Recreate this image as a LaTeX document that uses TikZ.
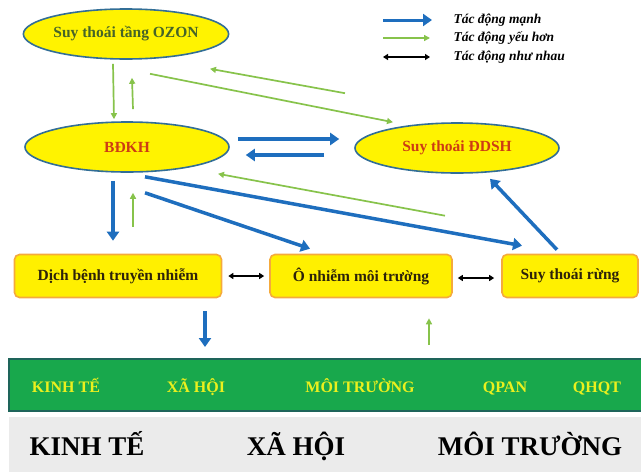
\documentclass[tikz,border=0pt]{standalone}
\usepackage{fontspec}
\setmainfont{Liberation Serif}
\usepackage{xcolor}
\usetikzlibrary{shapes.geometric, arrows.meta, positioning}

\definecolor{ellyellow}{RGB}{255,243,0}
\definecolor{ellblue}{RGB}{50,110,150}
\definecolor{boxyellow}{RGB}{255,240,0}
\definecolor{boxorange}{RGB}{245,170,60}
\definecolor{boxtext}{RGB}{45,35,10}
\definecolor{ozontext}{RGB}{70,100,40}
\definecolor{redtext}{RGB}{205,60,20}
\definecolor{arrblue}{RGB}{30,110,190}
\definecolor{arrgreen}{RGB}{135,195,75}
\definecolor{bandgreen}{RGB}{24,168,76}
\definecolor{bandedge}{RGB}{30,100,90}
\definecolor{bandyellow}{RGB}{235,240,30}
\definecolor{greybg}{RGB}{235,235,235}

\begin{document}
\begin{tikzpicture}[x=1pt, y=-1pt,
  every node/.style={font=\bfseries},
  elli/.style={ellipse, draw=ellblue, line width=1.6pt, fill=ellyellow,
               minimum width=204pt, minimum height=50pt, inner sep=0pt,
               font=\fontsize{15.5}{18}\selectfont\bfseries},
  box/.style={rectangle, rounded corners=5pt, draw=boxorange, line width=1.6pt,
              fill=boxyellow, minimum height=43pt, inner sep=0pt, text=boxtext,
              font=\fontsize{15.5}{18}\selectfont\bfseries},
  strong/.style={-{Triangle[length=9pt,width=12pt]}, line width=3.5pt, arrblue},
  weak/.style={-{Triangle[length=6pt,width=6pt]}, line width=1.7pt, arrgreen},
  mutual/.style={{Triangle[length=5pt,width=6pt]}-{Triangle[length=5pt,width=6pt]},
                 line width=1.6pt, black},
  legtext/.style={anchor=west, font=\fontsize{13.5}{16}\selectfont\bfseries\itshape},
  bandtext/.style={anchor=base, text=bandyellow, font=\fontsize{16}{18}\selectfont\bfseries},
  bigtext/.style={anchor=base, font=\fontsize{27}{30}\selectfont\bfseries}
]
  \fill[white] (0,0) rectangle (641,472);
  \useasboundingbox (0,0) rectangle (641,472);

  % Ellipses
  \node[elli, text=ozontext] (ozon) at (126,34)  {Suy thoái tầng OZON};
  \node[elli, text=redtext]  (bdkh) at (127,147) {BĐKH};
  \node[elli, text=redtext]  (ddsh) at (457,148) {Suy thoái ĐDSH};

  % Boxes
  \node[box, minimum width=207pt] (dich)   at (118,276) {Dịch bệnh truyền nhiễm};
  \node[box, minimum width=182pt] (onhiem) at (361,276) {Ô nhiễm môi trường};
  \node[box, minimum width=136pt] (rung)   at (570,276) {Suy thoái rừng};

  % Bands
  \node[draw=bandedge, line width=2pt, fill=bandgreen, minimum width=634pt,
        minimum height=52pt, inner sep=0pt] (band) at (326,385) {};
  \node[fill=greybg, minimum width=633pt, minimum height=55pt, inner sep=0pt]
    (grey) at (325.5,444.5) {};

  \node[bandtext] (kt)  at (66,392)  {KINH TẾ};
  \node[bandtext] (xh)  at (196,392) {XÃ HỘI};
  \node[bandtext] (mt)  at (360,392) {MÔI TRƯỜNG};
  \node[bandtext] (qp)  at (505,392) {QPAN};
  \node[bandtext] (qh)  at (597,392) {QHQT};

  \node[bigtext] (ktb) at (87,455)  {KINH TẾ};
  \node[bigtext] (xhb) at (296,455) {XÃ HỘI};
  \node[bigtext] (mtb) at (530,455) {MÔI TRƯỜNG};

  % Arrows
  \draw[weak] ([shift={(-13,4)}]ozon.south) -- ([shift={(-13,-2)}]bdkh.north);
  \draw[weak] ([shift={(6,-12)}]bdkh.north) -- ([shift={(6,18)}]ozon.south);
  \draw[weak] ([shift={(24,14)}]ozon.south) -- ([shift={(-64,0)}]ddsh.north);
  \draw[weak] ([shift={(-112,-29)}]ddsh.north) -- ([shift={(84,9)}]ozon.south);
  \draw[strong] ([shift={(8,-8)}]bdkh.east) -- ([shift={(-15,-9)}]ddsh.west);
  \draw[strong] ([shift={(-30,7)}]ddsh.west) -- ([shift={(16,8)}]bdkh.east);
  \draw[weak] ([shift={(-125,-38)}]rung.north) -- ([shift={(91,1)}]bdkh.south);
  \draw[strong] ([shift={(18,4)}]bdkh.south) -- ([shift={(-48,-8)}]rung.north);
  \draw[strong] ([shift={(18,20)}]bdkh.south) -- ([shift={(-51,-5)}]onhiem.north);
  \draw[strong] ([shift={(-14,8)}]bdkh.south) -- ([shift={(-5,-13)}]dich.north);
  \draw[weak] ([shift={(15,-27)}]dich.north) -- ([shift={(6,20)}]bdkh.south);
  \draw[strong] ([shift={(-13,-4)}]rung.north) -- ([shift={(33,5)}]ddsh.south);
  \draw[mutual, shorten <=6pt, shorten >=5pt] (dich.east) -- (onhiem.west);
  \draw[mutual, shorten <=5pt, shorten >=7pt]
    ([shift={(0,2)}]onhiem.east) -- ([shift={(0,2)}]rung.west);
  \draw[strong] ([shift={(87,13)}]dich.south) -- ([shift={(-121,-11)}]band.north);
  \draw[weak] ([shift={(103,-13)}]band.north) -- ([shift={(68,20)}]onhiem.south);

  % Legend
  \node[legtext] (lg1) at (450,20) {Tác động mạnh};
  \node[legtext] (lg2) at (450,38) {Tác động yếu hơn};
  \node[legtext] (lg3) at (450,57) {Tác động như nhau};
  \draw[strong, line width=3pt] ([shift={(-67,0)}]lg1.west) -- ([shift={(-18,0)}]lg1.west);
  \draw[weak] ([shift={(-67,0)}]lg2.west) -- ([shift={(-20,0)}]lg2.west);
  \draw[mutual] ([shift={(-67,0)}]lg3.west) -- ([shift={(-20,0)}]lg3.west);
\end{tikzpicture}
\end{document}
